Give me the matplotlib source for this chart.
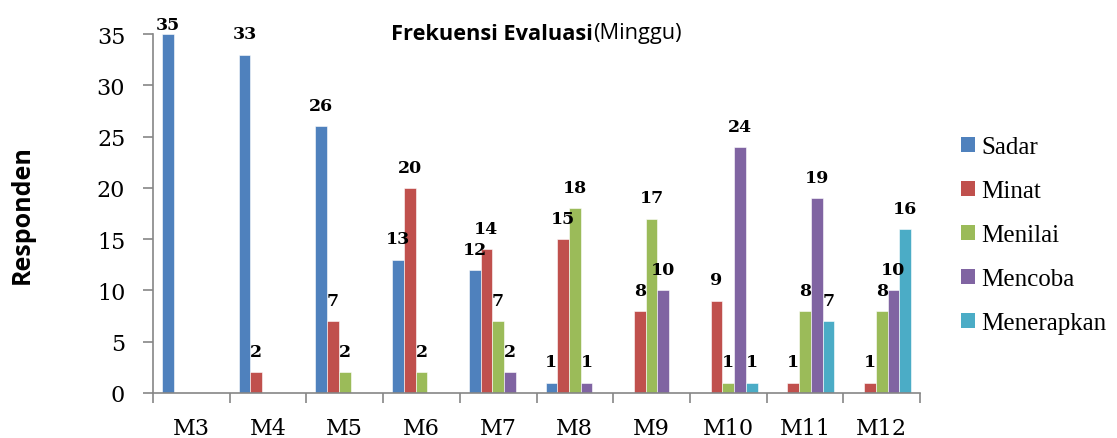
import matplotlib
matplotlib.use("Agg")
import matplotlib.pyplot as plt
import numpy as np
from matplotlib.patches import Patch
from matplotlib import font_manager as fm

categories = ["M3", "M4", "M5", "M6", "M7", "M8", "M9", "M10", "M11", "M12"]
sadar      = [35, 33, 26, 13, 12, 1, 0, 0, 0, 0]
minat      = [0, 2, 7, 20, 14, 15, 8, 9, 1, 1]
menilai    = [0, 0, 2, 2, 7, 18, 17, 1, 8, 8]
mencoba    = [0, 0, 0, 0, 2, 1, 10, 24, 19, 10]
menerapkan = [0, 0, 0, 0, 0, 0, 0, 1, 7, 16]
series_names = ["Sadar", "Minat", "Menilai", "Mencoba", "Menerapkan"]
colors = ["#4F81BD", "#C0504D", "#9BBB59", "#8064A2", "#4BACC6"]
yticks = [0, 5, 10, 15, 20, 25, 30, 35]

W, H = 1117, 439
fig = plt.figure(figsize=(W / 100, H / 100), dpi=100)
ax = fig.add_axes([153 / W, 1 - 394 / H, (920 - 153) / W, (394 - 35) / H])

series = [sadar, minat, menilai, mencoba, menerapkan]
n = len(series)
bw = 0.153
x = np.arange(len(categories))
for i, (vals, c) in enumerate(zip(series, colors)):
    pos = x + (i - (n - 1) / 2) * bw
    ax.bar(pos, vals, width=bw, color=c, edgecolor="white", linewidth=0.4)
    for p, v in zip(pos, vals):
        if v > 0:
            ax.text(p, min(v + 1.2, 35.05), str(v), ha="center", va="bottom",
                    fontsize=12.5, fontweight="bold", family="DejaVu Serif",
                    clip_on=False)

ax.set_xlim(-0.5, len(categories) - 0.5)
ax.set_ylim(0, 35)
ax.set_yticks(yticks)
ax.set_xticks(x)
ax.set_xticklabels(categories)
ax.set_xticks(np.arange(-0.5, len(categories), 1), minor=True)
ax.tick_params(axis="x", which="major", length=0, pad=17)
ax.tick_params(axis="x", which="minor", length=7, width=1.2, color="#868686", direction="out")
ax.tick_params(axis="y", length=7, width=1.2, color="#868686", pad=13)
for lab in ax.get_xticklabels() + ax.get_yticklabels():
    lab.set_family("DejaVu Serif")
    lab.set_fontsize(16)
for s in ["top", "right"]:
    ax.spines[s].set_visible(False)
for s in ["left", "bottom"]:
    ax.spines[s].set_color("#868686")
    ax.spines[s].set_linewidth(1.2)

# y label
fig.text(22 / W, 1 - 215 / H, "Responden", rotation=90, ha="center", va="center",
         fontsize=18, fontweight="bold", family="Open Sans")

# title (bold + regular)
fig.canvas.draw()
r = fig.canvas.get_renderer()
t1 = fig.text(391 / W, 1 - 34 / H, "Frekuensi Evaluasi", ha="left", va="center",
              fontsize=15.7, fontweight="bold", family="Open Sans")
bb = t1.get_window_extent(renderer=r)
fig.text(bb.x1 / W, 1 - 34 / H, "(Minggu)", ha="left", va="center",
         fontsize=15.7, family="Open Sans")

handles = [Patch(facecolor=c, edgecolor="none") for c in colors]
leg = fig.legend(handles, series_names, loc="upper left",
                 bbox_to_anchor=(961 / W, 1 - 137 / H), frameon=False,
                 prop=fm.FontProperties(family=["Liberation Serif"], size=18),
                 handlelength=0.56, handleheight=0.56, handletextpad=0.24,
                 labelspacing=0.88, borderaxespad=0, borderpad=0)

fig.savefig("out.png", dpi=100)
